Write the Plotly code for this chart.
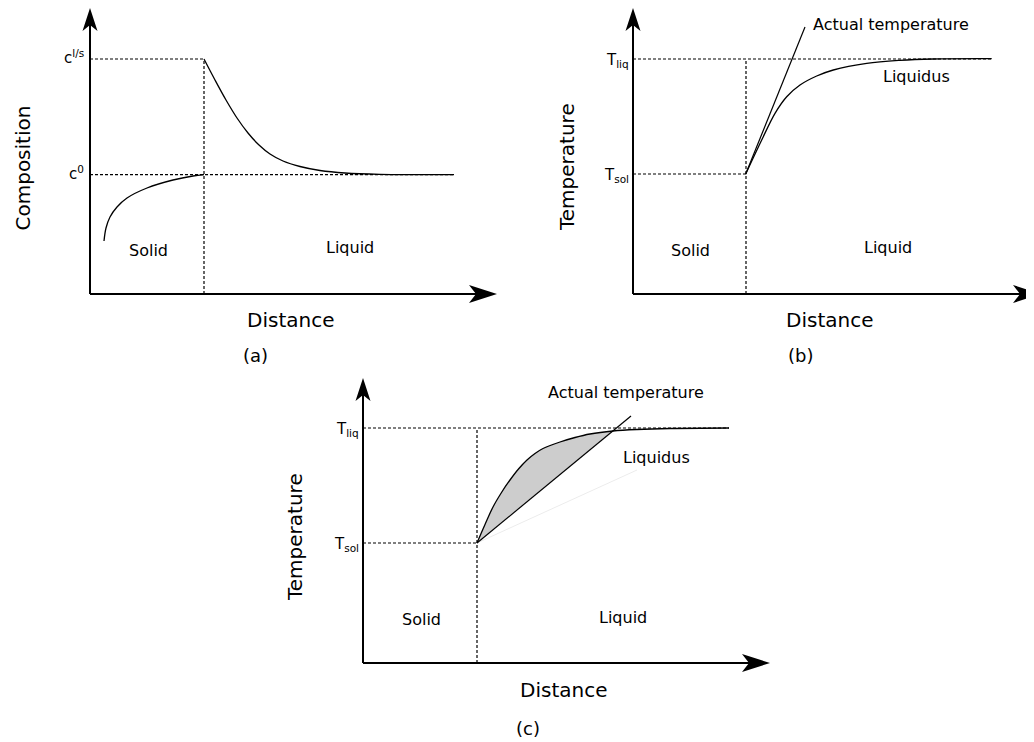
import plotly.graph_objects as go

W, H = 1034, 742
PAGE_OFFSET = 8  # default body margin of the html page
FONT = "DejaVu Sans"

# ---------------------------------------------------------
# data (units: distance / value from each panel's origin)
# ---------------------------------------------------------

# (a) composition profile
A_INTERFACE = 11.4
A_C_LS = 23.5
A_C0 = 11.93
A_DOT_END = 36.4
a_liq_x = [11.4, 12.5, 13.6, 14.7, 15.8, 16.9, 18.0, 19.3, 21.0, 23.0, 25.5, 29.0, 36.4]
a_liq_y = [23.5, 21.4, 19.4, 17.6, 16.1, 14.9, 14.0, 13.3, 12.75, 12.35, 12.1, 11.97, 11.93]
a_sol_x = [1.4, 1.6, 2.0, 2.7, 3.7, 5.7, 8.3, 10.3, 11.4]
a_sol_y = [5.3, 6.6, 7.7, 8.7, 9.6, 10.6, 11.4, 11.8, 11.93]

# (b) temperature profile, no undercooling
B_INTERFACE = 11.3
B_T_LIQ = 23.5
B_T_SOL = 12.0
B_DOT_END = 35.9
b_liq_x = [11.27, 12.87, 14.2, 15.37, 16.7, 18.37, 20.03, 23.37, 26.7, 30.03, 35.87]
b_liq_y = [12.0, 15.4, 18.07, 19.73, 20.9, 21.8, 22.4, 23.07, 23.37, 23.5, 23.53]
b_act_x = [11.27, 17.2]
b_act_y = [12.0, 26.7]

# (c) temperature profile, constitutional undercooling
C_INTERFACE = 11.4
C_T_LIQ = 23.5
C_T_SOL = 12.0
C_DOT_END = 36.6
c_liq_x = [11.4, 12.2, 13.0, 13.85, 14.7, 15.55, 16.4, 17.2, 18.0, 19.7, 21.2, 22.7, 25.0, 27.4, 30.7, 36.6]
c_liq_y = [12.0, 13.85, 15.6, 17.05, 18.3, 19.4, 20.3, 20.95, 21.45, 22.1, 22.55, 22.9, 23.2, 23.35, 23.45, 23.5]
c_act_x = [11.4, 26.8]
c_act_y = [12.0, 24.7]
C_CROSS = 12  # index of liquidus point where actual temperature crosses it
c_faint_x = [11.4, 27.4]
c_faint_y = [12.0, 19.3]

# panel origins in page pixels, extents in units (1 unit = 10 px)
PANELS = {
    "a": dict(ox=90, oy=294, left=8, right=41, down=7, up=28.6, xtip=40.7, ytip=28.6),
    "b": dict(ox=633, oy=294, left=8, right=40.9, down=7, up=28.6, xtip=40.8, ytip=28.6),
    "c": dict(ox=363, oy=663, left=8, right=41, down=7, up=29, xtip=40.7, ytip=28.5),
}

fig = go.Figure()
shapes = []
annotations = []


def axes_names(i):
    sfx = "" if i == 1 else str(i)
    return "x" + sfx, "y" + sfx, "xaxis" + sfx, "yaxis" + sfx


def line(i, x, y, width=1.3, dash=None, color="black", spline=True, **kw):
    xr, yr, _, _ = axes_names(i)
    fig.add_trace(go.Scatter(
        x=x, y=y, xaxis=xr, yaxis=yr, mode="lines", hoverinfo="skip",
        line=dict(color=color, width=width, dash=dash,
                  shape="spline" if spline else "linear", smoothing=1.0),
        showlegend=False, **kw))


def text(i, x, y, s, size=16, **kw):
    xr, yr, _, _ = axes_names(i)
    annotations.append(dict(x=x, y=y, xref=xr, yref=yr, text=s, showarrow=False,
                            font=dict(family=FONT, size=size, color="black"), **kw))


def setup_panel(i, p):
    xr, yr, xa, ya = axes_names(i)
    ox, oy = p["ox"] - PAGE_OFFSET, p["oy"] - PAGE_OFFSET
    x0 = (ox - 10 * p["left"]) / W
    x1 = min(1.0, (ox + 10 * p["right"]) / W)
    y0 = 1 - (oy + 10 * p["down"]) / H
    y1 = 1 - (oy - 10 * p["up"]) / H
    fig.layout[xa] = dict(domain=[x0, x1], range=[-p["left"], p["right"]],
                          visible=False, fixedrange=True, anchor=yr)
    fig.layout[ya] = dict(domain=[y0, y1], range=[-p["down"], p["up"]],
                          visible=False, fixedrange=True, anchor=xr)
    X, Y = p["xtip"], p["ytip"]
    # axis lines
    shapes.append(dict(type="line", xref=xr, yref=yr, x0=0, y0=0, x1=X - 2.0, y1=0,
                       line=dict(color="black", width=2)))
    shapes.append(dict(type="line", xref=xr, yref=yr, x0=0, y0=0, x1=0, y1=Y - 1.6,
                       line=dict(color="black", width=2)))
    # arrowheads
    shapes.append(dict(type="path", xref=xr, yref=yr, fillcolor="black", line=dict(width=0),
                       path=f"M{X},0 L{X - 2.8},0.9 L{X - 2.1},0 L{X - 2.8},-0.9 Z"))
    shapes.append(dict(type="path", xref=xr, yref=yr, fillcolor="black", line=dict(width=0),
                       path=f"M0,{Y} L-0.75,{Y - 2.3} L0,{Y - 1.7} L0.75,{Y - 2.3} Z"))


for i, key in enumerate(["a", "b", "c"], start=1):
    setup_panel(i, PANELS[key])

DOT = "3px,2px"

# ---- (a) ----
line(1, [0, A_INTERFACE], [A_C_LS, A_C_LS], width=1.2, dash=DOT, spline=False)
line(1, [0, A_DOT_END], [A_C0, A_C0], width=1.2, dash=DOT, spline=False)
line(1, [A_INTERFACE, A_INTERFACE], [0, A_C_LS], width=1.2, dash=DOT, spline=False)
line(1, a_liq_x, a_liq_y)
line(1, a_sol_x, a_sol_y)
text(1, -0.4, A_C_LS + 0.2, "c<sup>l/s</sup>", size=15, xanchor="right")
text(1, -0.4, A_C0 + 0.2, "c<sup>0</sup>", size=15, xanchor="right")
text(1, -6.75, 12.6, "Composition", size=20, textangle=-90)
text(1, 5.8, 4.4, "Solid")
text(1, 26.0, 4.7, "Liquid")
text(1, 20.0, -2.6, "Distance", size=20)
text(1, 16.5, -6.1, "(a)", size=18)

# ---- (b) ----
line(2, [0, B_DOT_END], [B_T_LIQ, B_T_LIQ], width=1.2, dash=DOT, spline=False)
line(2, [0, B_INTERFACE], [B_T_SOL, B_T_SOL], width=1.2, dash=DOT, spline=False)
line(2, [B_INTERFACE, B_INTERFACE], [0, B_T_LIQ], width=1.2, dash=DOT, spline=False)
line(2, b_liq_x, b_liq_y)
line(2, b_act_x, b_act_y, width=1.2, spline=False)
text(2, -0.2, B_T_LIQ - 0.1, "T<sub>liq</sub>", size=15, xanchor="right")
text(2, -0.2, B_T_SOL - 0.1, "T<sub>sol</sub>", size=15, xanchor="right")
text(2, -6.6, 12.7, "Temperature", size=20, textangle=-90)
text(2, 25.8, 27.0, "Actual temperature")
text(2, 28.3, 21.8, "Liquidus")
text(2, 5.7, 4.4, "Solid")
text(2, 25.5, 4.7, "Liquid")
text(2, 19.6, -2.6, "Distance", size=20)
text(2, 16.7, -6.1, "(b)", size=18)

# ---- (c) ----
line(3, [0, C_DOT_END], [C_T_LIQ, C_T_LIQ], width=1.2, dash=DOT, spline=False)
line(3, [0, C_INTERFACE], [C_T_SOL, C_T_SOL], width=1.2, dash=DOT, spline=False)
line(3, [C_INTERFACE, C_INTERFACE], [0, C_T_LIQ], width=1.2, dash=DOT, spline=False)
# undercooled zone between liquidus and actual temperature
line(3, [c_act_x[0], c_liq_x[C_CROSS]], [c_act_y[0], c_liq_y[C_CROSS]], width=0, spline=False)
line(3, c_liq_x[:C_CROSS + 1], c_liq_y[:C_CROSS + 1], width=0,
     fill="tonexty", fillcolor="#cdcdcd")
line(3, c_faint_x, c_faint_y, width=1, color="#ececec", spline=False)
line(3, c_liq_x, c_liq_y)
line(3, c_act_x, c_act_y, width=1.2, spline=False)
text(3, -0.2, C_T_LIQ - 0.1, "T<sub>liq</sub>", size=15, xanchor="right")
text(3, -0.2, C_T_SOL - 0.1, "T<sub>sol</sub>", size=15, xanchor="right")
text(3, -6.8, 12.6, "Temperature", size=20, textangle=-90)
text(3, 26.3, 27.1, "Actual temperature")
text(3, 29.3, 20.6, "Liquidus")
text(3, 5.8, 4.4, "Solid")
text(3, 26.0, 4.6, "Liquid")
text(3, 20.0, -2.7, "Distance", size=20)
text(3, 16.5, -6.5, "(c)", size=18)

fig.update_layout(
    width=W, height=H,
    margin=dict(l=0, r=0, t=0, b=0),
    paper_bgcolor="white", plot_bgcolor="rgba(0,0,0,0)",
    shapes=shapes, annotations=annotations,
    font=dict(family=FONT, color="black"),
    showlegend=False,
)

fig.write_html("out.html", config={"displayModeBar": False})
